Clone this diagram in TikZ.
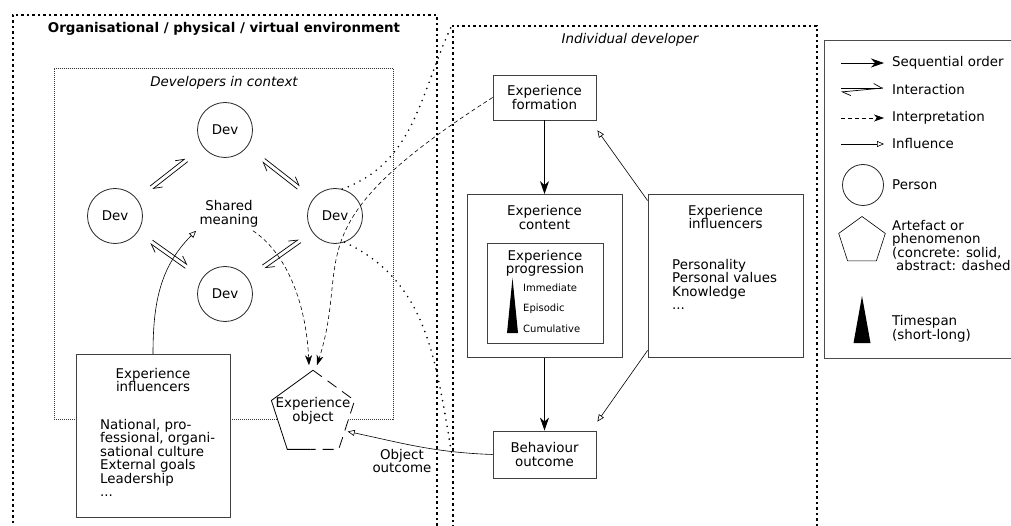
\documentclass[tikz,border=0pt]{standalone}
\usepackage{fontspec}
\setmainfont{DejaVu Sans}
\usetikzlibrary{arrows.meta,shapes.geometric,calc}

\newcommand{\mainsize}{\fontsize{13.4}{13.5}\selectfont}
% two opposite half arrows between two points
\newcommand{\harpoons}[4]{%
  \draw[interact] ($(#1)!#3!(#2)!2pt!90:(#2)$) -- ($(#1)!#4!(#2)!2pt!90:(#2)$);
  \draw[interact] ($(#1)!#4!(#2)!2pt!-90:(#2)$) -- ($(#1)!#3!(#2)!2pt!-90:(#2)$);
}

\begin{document}
\begin{tikzpicture}[x=1pt, y=-1pt, node distance=178.5pt, font=\mainsize,
  envbox/.style={draw, line width=1.8pt, dash pattern=on 2.5pt off 3pt, inner sep=0pt, anchor=north west},
  ctxbox/.style={draw, black!80, line width=0.6pt, dash pattern=on 1pt off 1pt, inner sep=0pt, anchor=north west},
  box/.style={draw=black!75, line width=0.8pt, fill=white, rectangle, align=center},
  dev/.style={draw=black!85, line width=0.8pt, circle, minimum size=55pt, inner sep=0pt},
  artefact/.style={regular polygon, regular polygon sides=5, minimum size=87pt, inner sep=0pt},
  listtext/.style={align=left, anchor=north west, inner sep=0pt},
  small/.style={font=\fontsize{10}{12}\selectfont, anchor=base west, inner sep=0pt},
  seq/.style={-{Stealth[length=13pt,width=9pt,inset=4pt]}, line width=0.9pt},
  interp/.style={-{Stealth[length=10pt,width=7pt,inset=3pt]}, dash pattern=on 4pt off 3pt, line width=0.6pt},
  infl/.style={-{Triangle[open,length=7pt,width=6pt]}, line width=0.6pt},
  interact/.style={-{Straight Barb[harpoon,length=8pt,width=9pt]}, line width=0.7pt},
  zoomline/.style={line width=1.8pt, dash pattern=on 0pt off 6.5pt, line cap=round}]
  \useasboundingbox (0,0) rectangle (1011,526);

  % environment
  \node[envbox, minimum width=424pt, minimum height=560pt] (env) at (12,14) {};
  \node[font=\mainsize\bfseries] (envtitle) at (224,29) {Organisational / physical / virtual environment};
  \node[ctxbox, minimum width=339pt, minimum height=351pt] (ctx) at (54,68) {};
  \node[font=\mainsize\itshape] (ctxtitle) at (224,83) {Developers in context};

  \node[dev] (devt) at (225,130) {Dev};
  \node[dev] (devl) at (115,216) {Dev};
  \node[dev] (devr) at (335,216) {Dev};
  \node[dev] (devb) at (225,294) {Dev};
  \node[align=center] (shared) at (229,214) {Shared\\meaning};

  \harpoons{devl}{devt}{0.33}{0.65}
  \harpoons{devt}{devr}{0.35}{0.67}
  \harpoons{devl}{devb}{0.33}{0.65}
  \harpoons{devb}{devr}{0.35}{0.68}

  \node[box, minimum width=154pt, minimum height=163pt, anchor=north] (orginfl) at (153,354) {};
  \node[align=center] (orginfltitle) at (153,380) {Experience\\influencers};
  \node[listtext] (orginfllist) at (100,419) {National, pro-\\fessional, organi-\\sational culture\\External goals\\Leadership\\...};

  \node[artefact, fill=white] (obj) at (313,414) {};
  \draw[line width=0.8pt] ($(obj.corner 3)!0.45!(obj.corner 4)$) -- (obj.corner 3) -- (obj.corner 2) -- (obj.corner 1);
  \draw[line width=0.8pt, dash pattern=on 11pt off 7pt] (obj.corner 1) -- (obj.corner 5) -- (obj.corner 4) -- ($(obj.corner 3)!0.45!(obj.corner 4)$);
  \node[align=center, inner sep=0pt] (objtext) at (313,411) {Experience\\object};

  % individual developer
  \node[envbox, minimum width=364pt, minimum height=560pt] (indiv) at (452,25) {};
  \node[font=\mainsize\itshape] (indivtitle) at (630,40) {Individual developer};

  \node[box, minimum width=103pt, minimum height=45pt] (form) at (544.5,97.5) {Experience\\formation};
  \node[box, minimum width=155pt, minimum height=163pt, below of=form] (content) {};
  \node[align=center, below=8pt] (contenttitle) at (content.north) {Experience\\content};
  \node[box, minimum width=116pt, minimum height=100pt] (prog) at (545,293) {};
  \node[align=center, below=4pt] (progtitle) at (prog.north) {Experience\\progression};
  \fill (512.5,278) -- (518,333) -- (507,333) -- cycle;
  \node[small] (immed) at (523,291) {Immediate};
  \node[small] (episodic) at (523,312) {Episodic};
  \node[small] (cumul) at (523,332) {Cumulative};
  \node[box, minimum width=103pt, minimum height=47pt, below of=content] (behav) {Behaviour\\outcome};

  \node[box, minimum width=155pt, minimum height=163pt] (devinfl) at (725.5,275.5) {};
  \node[align=center, below=8pt] (devinfltitle) at (devinfl.north) {Experience\\influencers};
  \node[listtext] (devinfllist) at (672,259) {Personality\\Personal values\\Knowledge\\...};

  \draw[seq] (form) -- (content);
  \draw[seq] (content) -- (behav);
  \draw[infl] ([yshift=-7pt]devinfl.north west) -- ([xshift=1pt,yshift=-10pt]form.south east);
  \draw[infl] ([yshift=7pt]devinfl.south west) -- ([xshift=1pt,yshift=9pt]behav.north east);

  % across the two boxes
  \coordinate (zoomend) at (452,455);
  \draw[zoomline] (devr.75) to[out=20, in=245] (indiv.north west);
  \draw[zoomline] (devr.-70) to[out=-25, in=100] (zoomend);
  \draw[interp] (shared.-35) .. controls (285,252) and (306,300) .. ([xshift=-4pt,yshift=5pt]obj.north);
  \draw[interp] (form.west) .. controls (290,227) and (352,256) .. ([xshift=4pt,yshift=5pt]obj.north);
  \draw[infl] (orginfl.north) to[out=90, in=225] (shared.south west);
  \draw[infl, shorten >=3pt] (behav.west) to[out=178, in=-12] node[pos=0.62, below=2pt, align=center] {Object\\outcome} (obj.-28);

  % legend
  \node[draw=black!70, line width=0.8pt, minimum width=200pt, minimum height=318pt, inner sep=0pt, anchor=north west] (legend) at (824,40) {};
  \node[anchor=west, inner sep=0pt] (lgseq) at (892,63) {Sequential order};
  \node[anchor=west, inner sep=0pt] (lgint) at (892,90) {Interaction};
  \node[anchor=west, inner sep=0pt] (lginterp) at (892,118) {Interpretation};
  \node[anchor=west, inner sep=0pt] (lginfl) at (892,144) {Influence};
  \draw[seq] ([xshift=-51pt]lgseq.west) -- ([xshift=-8pt]lgseq.west);
  \coordinate (inta) at (841,90);
  \coordinate (intb) at (883,90);
  \harpoons{inta}{intb}{0}{1}
  \draw[interp] ([xshift=-51pt]lginterp.west) -- ([xshift=-8pt]lginterp.west);
  \draw[infl] ([xshift=-51pt]lginfl.west) -- ([xshift=-8pt]lginfl.west);

  \node[dev, minimum size=41pt] (lgperson) at (863,185) {};
  \node[anchor=west, inner sep=0pt] (lgpersontxt) at (892,185) {Person};
  \node[artefact, draw, line width=0.6pt, minimum size=49pt] (lgart) at (862,241) {};
  \node[anchor=west, align=left, inner sep=0pt] (lgarttxt) at (892,245.5) {Artefact or\\phenomenon\\(concrete: solid,\\\hspace*{0.3em}abstract: dashed};
  \fill (862,296) -- (870.5,343) -- (853.5,343) -- cycle;
  \node[anchor=west, align=left, inner sep=0pt] (lgtimetxt) at (892,329) {Timespan\\(short-long)};
\end{tikzpicture}
\end{document}
